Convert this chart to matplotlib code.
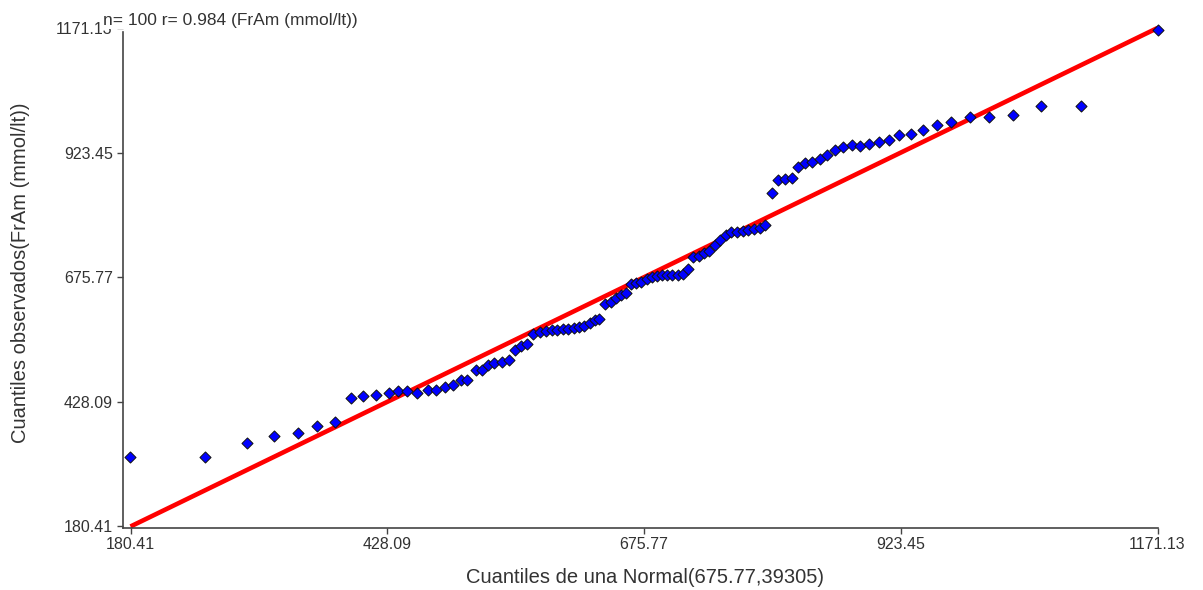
import matplotlib
matplotlib.use("Agg")
import matplotlib.pyplot as plt

plt.rcParams['font.family'] = ['Liberation Sans', 'DejaVu Sans']

# quantiles of N(675.77, 39305) vs. observed FrAm values (sorted)
normal_q = [180.4, 252.6, 292.5, 319.1, 341.7, 360.6, 378.0, 392.8, 405.0, 417.5,
            429.3, 438.7, 447.4, 457.1, 467.1, 475.1, 483.8, 491.2, 499.2, 505.0,
            513.7, 519.5, 525.3, 531.0, 539.1, 545.5, 551.3, 556.8, 562.6, 569.0,
            575.5, 581.2, 586.7, 592.1, 597.9, 602.9, 607.8, 612.6, 617.9, 623.2,
            628.5, 632.6, 638.2, 643.5, 648.4, 653.4, 658.3, 663.3, 668.4, 673.3,
            678.3, 683.2, 688.2, 693.1, 698.1, 703.1, 708.1, 713.1, 718.2, 723.3,
            728.5, 733.6, 738.9, 744.2, 749.4, 754.8, 760.1, 765.5, 770.8, 776.1,
            781.4, 787.2, 792.5, 799.0, 805.3, 811.8, 818.3, 824.6, 831.1, 837.6,
            845.6, 852.0, 860.0, 868.0, 876.2, 884.2, 893.3, 902.8, 912.4, 922.1,
            933.0, 945.2, 958.4, 971.9, 990.3, 1008.9, 1031.3, 1058.5, 1097.6, 1171.13]
observed = [319.4, 319.4, 346.7, 360.1, 366.6, 380.0, 387.1, 436.3, 438.9, 442.3,
            445.7, 448.8, 450.2, 446.3, 451.6, 450.8, 458.2, 461.6, 471.6, 471.6,
            491.5, 491.5, 501.0, 504.6, 506.6, 511.4, 531.3, 538.5, 542.4, 563.2,
            566.3, 569.7, 571.1, 571.1, 573.1, 573.1, 574.1, 576.7, 579.7, 584.3,
            591.0, 593.6, 622.9, 626.1, 635.4, 641.4, 644.4, 663.3, 665.3, 667.3,
            672.7, 675.3, 678.3, 680.3, 681.2, 681.2, 681.2, 683.2, 691.2, 715.1,
            718.1, 723.1, 728.0, 739.0, 749.0, 758.9, 765.9, 765.9, 767.9, 768.9,
            770.9, 772.9, 778.8, 842.6, 869.4, 871.8, 872.4, 894.9, 902.3, 905.7,
            911.6, 918.2, 929.2, 935.1, 938.1, 937.1, 941.1, 945.1, 948.1, 958.6,
            961.4, 969.0, 977.9, 984.9, 994.9, 993.9, 997.3, 1016.8, 1016.8, 1167.2]

lo, hi = 180.41, 1171.13
ticks = [180.41, 428.09, 675.77, 923.45, 1171.13]
tick_labels = ["180.41", "428.09", "675.77", "923.45", "1171.13"]

fig = plt.figure(figsize=(12.03, 5.90), dpi=100)
ax = fig.add_axes([0.10183, 0.10593, 0.86035, 0.84661])

ax.plot([lo, hi], [lo, hi], color='#ff0000', lw=3.3, solid_capstyle='butt',
        clip_on=False, zorder=2)
ax.scatter(normal_q, observed, marker='D', s=32, c='#0000ff',
           edgecolors='#111111', linewidths=0.7, zorder=3, clip_on=False)

ax.set_xlim(172.69, hi)
ax.set_ylim(178.4, hi)
ax.set_xticks(ticks)
ax.set_xticklabels(tick_labels)
ax.set_yticks(ticks)
ax.set_yticklabels(tick_labels)

for s in ['top', 'right']:
    ax.spines[s].set_visible(False)
for s in ['left', 'bottom']:
    ax.spines[s].set_color('#444444')
    ax.spines[s].set_linewidth(1.2)
ax.spines['left'].set_bounds(178.4, hi - 8)
ax.tick_params(direction='out', length=4, width=1, color='#444444',
               labelsize=11.5, labelcolor='#333333', pad=3)

ax.set_xlabel("Cuantiles de una Normal(675.77,39305)", fontsize=14.5,
              color='#333333', va='center')
ax.set_ylabel("Cuantiles observados(FrAm (mmol/lt))", fontsize=14.5,
              color='#333333', va='center')
ax.xaxis.set_label_coords(0.5048, -0.101)
ax.yaxis.set_label_coords(-0.099, 0.51)

fig.text(0.0856, 0.9661, "n= 100 r= 0.984 (FrAm (mmol/lt))", fontsize=12.5,
         color='#333333', ha='left', va='center',
         bbox=dict(facecolor='white', edgecolor='none', pad=1))

fig.savefig("out.png", dpi=100)
